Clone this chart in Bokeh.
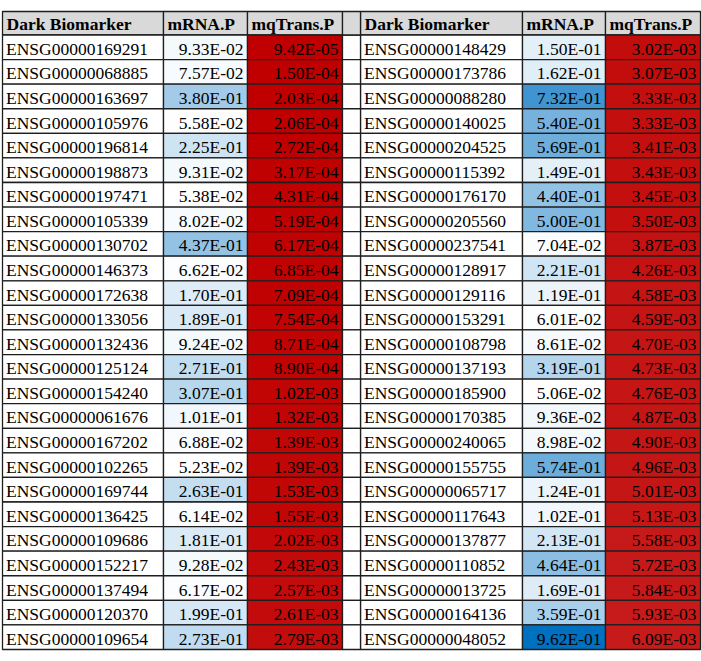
import numpy as np
from bokeh.plotting import figure
from bokeh.models import ColumnDataSource, Range1d, LinearColorMapper
from bokeh.transform import transform
from bokeh.core.properties import value
from bokeh.embed import file_html
from bokeh.resources import INLINE

headers = ["Dark Biomarker", "mRNA.P", "mqTrans.P"]

left_genes = ["ENSG00000169291", "ENSG00000068885", "ENSG00000163697", "ENSG00000105976",
              "ENSG00000196814", "ENSG00000198873", "ENSG00000197471", "ENSG00000105339",
              "ENSG00000130702", "ENSG00000146373", "ENSG00000172638", "ENSG00000133056",
              "ENSG00000132436", "ENSG00000125124", "ENSG00000154240", "ENSG00000061676",
              "ENSG00000167202", "ENSG00000102265", "ENSG00000169744", "ENSG00000136425",
              "ENSG00000109686", "ENSG00000152217", "ENSG00000137494", "ENSG00000120370",
              "ENSG00000109654"]
left_mrna = [9.33e-02, 7.57e-02, 3.80e-01, 5.58e-02, 2.25e-01, 9.31e-02, 5.38e-02, 8.02e-02,
             4.37e-01, 6.62e-02, 1.70e-01, 1.89e-01, 9.24e-02, 2.71e-01, 3.07e-01, 1.01e-01,
             6.88e-02, 5.23e-02, 2.63e-01, 6.14e-02, 1.81e-01, 9.28e-02, 6.17e-02, 1.99e-01,
             2.73e-01]
left_mq = [9.42e-05, 1.50e-04, 2.03e-04, 2.06e-04, 2.72e-04, 3.17e-04, 4.31e-04, 5.19e-04,
           6.17e-04, 6.85e-04, 7.09e-04, 7.54e-04, 8.71e-04, 8.90e-04, 1.02e-03, 1.32e-03,
           1.39e-03, 1.39e-03, 1.53e-03, 1.55e-03, 2.02e-03, 2.43e-03, 2.57e-03, 2.61e-03,
           2.79e-03]

right_genes = ["ENSG00000148429", "ENSG00000173786", "ENSG00000088280", "ENSG00000140025",
               "ENSG00000204525", "ENSG00000115392", "ENSG00000176170", "ENSG00000205560",
               "ENSG00000237541", "ENSG00000128917", "ENSG00000129116", "ENSG00000153291",
               "ENSG00000108798", "ENSG00000137193", "ENSG00000185900", "ENSG00000170385",
               "ENSG00000240065", "ENSG00000155755", "ENSG00000065717", "ENSG00000117643",
               "ENSG00000137877", "ENSG00000110852", "ENSG00000013725", "ENSG00000164136",
               "ENSG00000048052"]
right_mrna = [1.50e-01, 1.62e-01, 7.32e-01, 5.40e-01, 5.69e-01, 1.49e-01, 4.40e-01, 5.00e-01,
              7.04e-02, 2.21e-01, 1.19e-01, 6.01e-02, 8.61e-02, 3.19e-01, 5.06e-02, 9.36e-02,
              8.98e-02, 5.74e-01, 1.24e-01, 1.02e-01, 2.13e-01, 4.64e-01, 1.69e-01, 3.59e-01,
              9.62e-01]
right_mq = [3.02e-03, 3.07e-03, 3.33e-03, 3.33e-03, 3.41e-03, 3.43e-03, 3.45e-03, 3.50e-03,
            3.87e-03, 4.26e-03, 4.58e-03, 4.59e-03, 4.70e-03, 4.73e-03, 4.76e-03, 4.87e-03,
            4.90e-03, 4.96e-03, 5.01e-03, 5.13e-03, 5.58e-03, 5.72e-03, 5.84e-03, 5.93e-03,
            6.09e-03]

# ---- layout (pixel coordinates of the page) ----
LEFT_COLS = [2, 163, 247, 342]
RIGHT_COLS = [360, 522, 605, 700]
TOP = 11.0
HEAD_BOTTOM = 34.5
BOTTOM = 649.0
FONT = value("Liberation Serif")
FS = "17.5px"
BORDER = "#1e1e1e"
LW = 1.3

def make_palette(c0, c1, n=256):
    out = []
    for i in range(n):
        t = i / (n - 1)
        r, g, b = [int(round(a + (bb - a) * t)) for a, bb in zip(c0, c1)]
        out.append("#%02x%02x%02x" % (r, g, b))
    return out

all_mrna = left_mrna + right_mrna
all_mq = left_mq + right_mq
blue_mapper = LinearColorMapper(palette=make_palette((255, 255, 255), (0, 112, 192)),
                                low=min(all_mrna), high=max(all_mrna))
red_mapper = LinearColorMapper(palette=make_palette((192, 0, 0), (255, 255, 255)),
                               low=min(all_mq), high=0.055)

p = figure(width=701, height=661, output_backend="svg", toolbar_location=None,
           x_range=Range1d(0, 701), y_range=Range1d(661, 0),
           min_border=0, outline_line_color=None)
p.axis.visible = False
p.grid.visible = False
p.background_fill_color = "white"
p.border_fill_color = "white"

nrows = len(left_genes)
row_h = (BOTTOM - HEAD_BOTTOM) / nrows

def draw_half(cols, genes, mrna, mq):
    idx = np.arange(len(genes))
    y0 = HEAD_BOTTOM + idx * row_h
    y1 = y0 + row_h
    hsrc = ColumnDataSource(dict(x0=cols[:-1], x1=cols[1:], y0=[TOP] * 3, y1=[HEAD_BOTTOM] * 3,
                                 tx=[c + 4 for c in cols[:-1]],
                                 ty=[(TOP + HEAD_BOTTOM) / 2 + 1.0] * 3,
                                 text=headers))
    p.quad(left="x0", right="x1", top="y0", bottom="y1", source=hsrc,
           fill_color="#d9d9d9", line_color=BORDER, line_width=LW)
    p.text(x="tx", y="ty", text="text", source=hsrc, text_font=FONT, text_font_size=FS,
           text_font_style="bold", text_align="left", text_baseline="middle",
           text_color="black")
    src = ColumnDataSource(dict(
        y0=y0, y1=y1, ty=(y0 + y1) / 2 + 1.5, gene=genes, mrna=mrna, mq=mq,
        mrna_t=["%.2E" % v for v in mrna], mq_t=["%.2E" % v for v in mq],
    ))
    p.quad(left=cols[0], right=cols[1], top="y0", bottom="y1", source=src,
           fill_color="white", line_color=BORDER, line_width=LW)
    p.quad(left=cols[1], right=cols[2], top="y0", bottom="y1", source=src,
           fill_color=transform("mrna", blue_mapper), line_color=BORDER, line_width=LW)
    p.quad(left=cols[2], right=cols[3], top="y0", bottom="y1", source=src,
           fill_color=transform("mq", red_mapper), line_color=BORDER, line_width=LW)
    p.text(x=cols[0] + 3.5, y="ty", text="gene", source=src, text_font=FONT,
           text_font_size=FS, text_align="left", text_baseline="middle",
           text_color="black")
    p.text(x=cols[2] - 4, y="ty", text="mrna_t", source=src, text_font=FONT,
           text_font_size=FS, text_align="right", text_baseline="middle",
           text_color="black")
    p.text(x=cols[3] - 4, y="ty", text="mq_t", source=src, text_font=FONT,
           text_font_size=FS, text_align="right", text_baseline="middle",
           text_color="black")
    return y0, y1

y0, y1 = draw_half(LEFT_COLS, left_genes, left_mrna, left_mq)
draw_half(RIGHT_COLS, right_genes, right_mrna, right_mq)

gsrc = ColumnDataSource(dict(y0=y0, y1=y1))
p.quad(left=LEFT_COLS[-1], right=RIGHT_COLS[0], top="y0", bottom="y1", source=gsrc,
       fill_color="white", line_color=BORDER, line_width=LW)
p.quad(left=LEFT_COLS[-1], right=RIGHT_COLS[0], top=TOP, bottom=HEAD_BOTTOM,
       fill_color="#d9d9d9", line_color=BORDER, line_width=LW)

open("out.html", "w").write(file_html(p, INLINE))
